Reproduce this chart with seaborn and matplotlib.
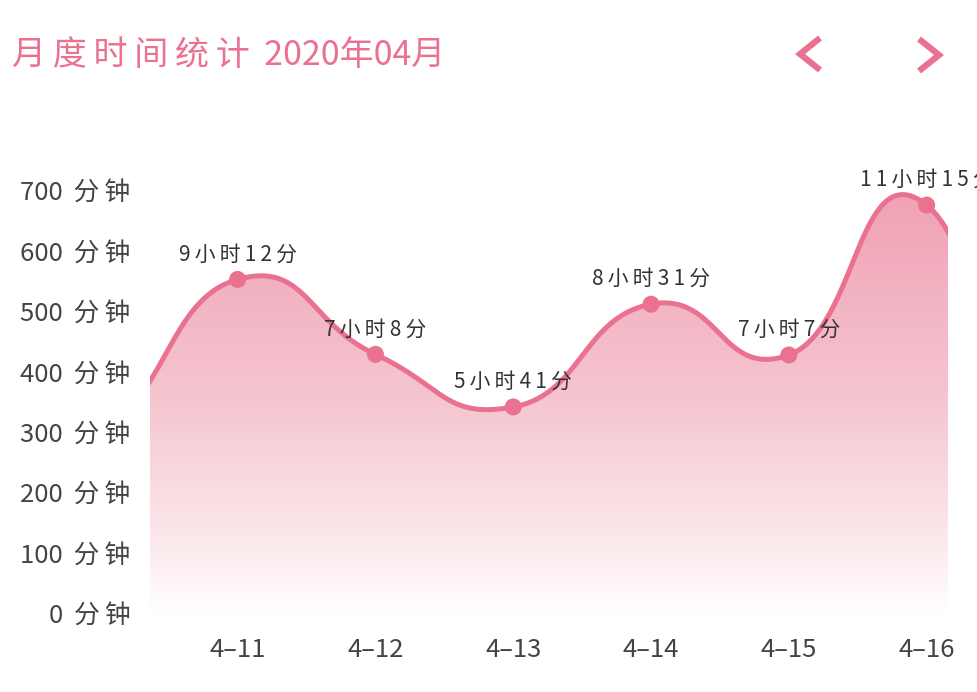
import numpy as np
import pandas as pd
import seaborn as sns
import matplotlib.pyplot as plt
from matplotlib.colors import LinearSegmentedColormap
from matplotlib.lines import Line2D

# visible days (window of a scrolled chart)
days = ['4–11', '4–12', '4–13', '4–14', '4–15', '4–16']
minutes = [552, 428, 341, 511, 427, 675]
point_labels = ['9小时12分', '7小时8分', '5小时41分', '8小时31分', '7小时7分', '11小时15分']
# neighbours outside the window, only their curve shows at the edges
before = [300, 300]   # 4-09, 4-10
after = [60, 300]     # 4-17, 4-18
yticks = [0, 100, 200, 300, 400, 500, 600, 700]
title = '月度时间统计 2020年04月'

pink = '#ea7190'
text_dark = '#333333'
THIN = '\u2009'

sns.set_theme(style='white')
plt.rcParams['font.family'] = ['Noto Sans CJK SC', 'DejaVu Sans']


def spaced(s):
    # the original font is set wide, so loosen the letters a bit
    return THIN.join(s)


def smooth_curve(xs, ys, k=0.25, n=60):
    # cardinal bezier through the points, control points from the neighbours
    xs = np.asarray(xs, float)
    ys = np.asarray(ys, float)
    t = np.linspace(0, 1, n)
    out_x, out_y = [], []
    for i in range(1, len(xs) - 2):
        p0 = np.array([xs[i], ys[i]])
        p3 = np.array([xs[i + 1], ys[i + 1]])
        p1 = p0 + (np.array([xs[i + 1], ys[i + 1]]) - np.array([xs[i - 1], ys[i - 1]])) * k
        p2 = p3 - (np.array([xs[i + 2], ys[i + 2]]) - np.array([xs[i], ys[i]])) * k
        b = ((1 - t) ** 3)[:, None] * p0 + (3 * (1 - t) ** 2 * t)[:, None] * p1 \
            + (3 * (1 - t) * t ** 2)[:, None] * p2 + (t ** 3)[:, None] * p3
        out_x.append(b[:, 0])
        out_y.append(b[:, 1])
    return np.concatenate(out_x), np.concatenate(out_y)


all_vals = before + minutes + after
all_x = np.arange(len(all_vals)) - len(before)
cx, cy = smooth_curve(all_x, all_vals)
curve = pd.DataFrame({'x': cx, 'y': cy})
pts = pd.DataFrame({'x': np.arange(len(days)), 'y': minutes})

W, H = 977, 692
fig = plt.figure(figsize=(W / 100, H / 100), dpi=100)
ax = fig.add_axes([150 / W, 1 - 613 / H, 798.3 / W, 423 / H])
xlim = (-0.636, 5.157)
ylim = (0, 700)

# gradient fill under the curve
cmap = LinearSegmentedColormap.from_list(
    'fade', [(0, '#ffffff'), (0.15, '#fcebee'), (0.5, '#f5c6d0'), (1.0, '#f0a1b4')])
poly = ax.fill_between(cx, cy, 0, color='none', lw=0)
grad = np.linspace(0, 1, 256).reshape(-1, 1)
im = ax.imshow(grad, extent=[xlim[0], xlim[1], 0, 700], origin='lower',
               aspect='auto', cmap=cmap, zorder=1)
im.set_clip_path(poly.get_paths()[0], transform=ax.transData)

sns.lineplot(data=curve, x='x', y='y', sort=False, estimator=None, ax=ax,
             color=pink, lw=3.6, zorder=3)
sns.scatterplot(data=pts, x='x', y='y', ax=ax, color=pink, s=150,
                edgecolor='none', zorder=4)

for i, (v, lab) in enumerate(zip(minutes, point_labels)):
    ax.annotate(spaced(lab), (i, v), xytext=(0, 18), textcoords='offset points',
                ha='center', va='center', fontsize=15, fontweight='medium',
                color=text_dark, annotation_clip=False, zorder=5)

ax.set_xlim(*xlim)
ax.set_ylim(*ylim)
ax.set_xticks(range(len(days)))
ax.set_xticklabels(days)
ax.set_yticks(yticks)
ax.set_yticklabels([f'{v} {THIN}分{THIN}钟' for v in yticks])
ax.tick_params(axis='y', length=0, pad=14, labelsize=18.5, labelcolor='#444444')
ax.tick_params(axis='x', length=0, pad=17, labelsize=18.5, labelcolor='#444444')
ax.set_xlabel('')
ax.set_ylabel('')
sns.despine(ax=ax, left=True, bottom=True)
ax.grid(False)

head, tail = title.split(' ')
fig.text(12 / W, 1 - 55 / H, spaced(head) + ' ' + THIN + tail, ha='left',
         va='center', fontsize=24.5, color=pink)

# month navigation arrows
for xs_, ys_ in [([820, 800, 820], [38, 54, 70]), ([919, 939, 919], [39, 55, 71])]:
    fig.add_artist(Line2D([x / W for x in xs_], [1 - y / H for y in ys_],
                          transform=fig.transFigure, color=pink, lw=4.5,
                          solid_joinstyle='miter', solid_capstyle='butt'))

fig.savefig('out.png', dpi=100, facecolor='white')
